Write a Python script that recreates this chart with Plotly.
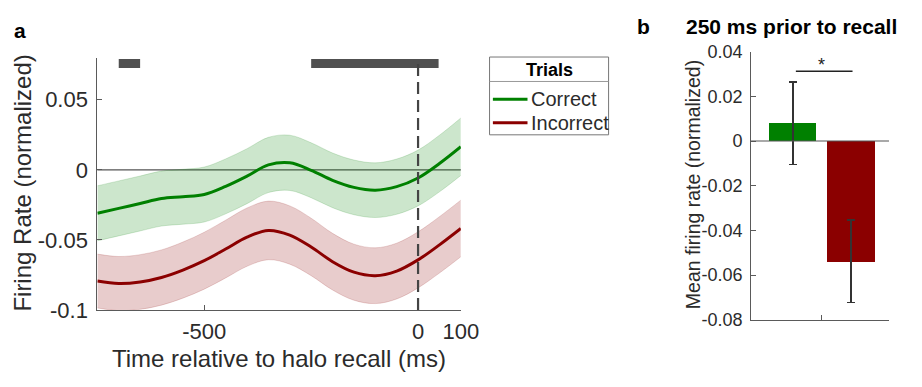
import plotly.graph_objects as go

# ---- Panel a: firing rate around halo recall ----
time_ms = [-750, -700, -650, -600, -550, -500, -450, -400, -350, -300,
           -250, -200, -150, -100, -50, 0, 50, 100]
correct_mean = [-0.0310, -0.0275, -0.0240, -0.0205, -0.0192, -0.0176, -0.0118,
                -0.0045, 0.0035, 0.0050, -0.0003, -0.0075, -0.0125, -0.0145,
                -0.0120, -0.0058, 0.0045, 0.0165]
correct_sem = [0.0196, 0.0196, 0.0196, 0.0196, 0.0196, 0.0196, 0.0196, 0.0196,
               0.0197, 0.0197, 0.0196, 0.0195, 0.0195, 0.0195, 0.0197, 0.0199,
               0.0202, 0.0205]
incorrect_mean = [-0.0793, -0.0811, -0.0800, -0.0768, -0.0715, -0.0648, -0.0565,
                  -0.0480, -0.0432, -0.0465, -0.0550, -0.0655, -0.0730, -0.0755,
                  -0.0722, -0.0642, -0.0535, -0.0418]
incorrect_sem = [0.0192, 0.0193, 0.0195, 0.0197, 0.0200, 0.0203, 0.0206, 0.0208,
                 0.0209, 0.0208, 0.0205, 0.0202, 0.0200, 0.0199, 0.0199, 0.0200,
                 0.0201, 0.0202]

# significant time windows (start, end) and the bar height they are drawn at
sig_start = [-700, -250]
sig_end = [-650, 48]
sig_level = 0.0759
sig_dot_t = [-335]
sig_dot_level = [0.0838]

# ---- Panel b: mean rate 250 ms before recall ----
bar_x = [1, 2]
bar_labels = ["Correct", "Incorrect"]
bar_mean = [0.0080, -0.0538]
bar_sem = [0.0185, 0.0184]

GREEN = "rgb(0,128,0)"
RED = "rgb(139,0,0)"
GREEN_FILL = "rgba(0,128,0,0.2)"
RED_FILL = "rgba(139,0,0,0.2)"
AX = "#5a5a5a"
TXT = "#2b2b2b"
FONT = "Liberation Sans, Arial, sans-serif"

W, H = 922, 387


def px_x(p):
    return p / W


def px_y(p):
    return 1 - p / H


fig = go.Figure()

# shaded SEM bands + mean lines
for mean, sem, line_c, fill_c, name in [
    (correct_mean, correct_sem, GREEN, GREEN_FILL, "Correct"),
    (incorrect_mean, incorrect_sem, RED, RED_FILL, "Incorrect"),
]:
    lower = [m - s for m, s in zip(mean, sem)]
    upper = [m + s for m, s in zip(mean, sem)]
    fig.add_trace(go.Scatter(x=time_ms, y=lower, mode="lines",
                             line=dict(color=fill_c, width=0.8, shape="spline"),
                             hoverinfo="skip", showlegend=False))
    fig.add_trace(go.Scatter(x=time_ms, y=upper, mode="lines", fill="tonexty",
                             fillcolor=fill_c,
                             line=dict(color=fill_c, width=0.8, shape="spline"),
                             hoverinfo="skip", showlegend=False))
    fig.add_trace(go.Scatter(x=time_ms, y=mean, mode="lines", name=name,
                             line=dict(color=line_c, width=3, shape="spline"),
                             showlegend=False))

# significance bars
for s, e in zip(sig_start, sig_end):
    fig.add_trace(go.Scatter(x=[s, e], y=[sig_level, sig_level], mode="lines",
                             line=dict(color="#505050", width=9),
                             hoverinfo="skip", showlegend=False))
fig.add_trace(go.Scatter(x=sig_dot_t, y=sig_dot_level, mode="markers",
                         marker=dict(color="#222", size=3, symbol="square"),
                         cliponaxis=False, hoverinfo="skip", showlegend=False))

# panel b bars
fig.add_trace(go.Bar(x=bar_x, y=bar_mean, width=0.81,
                     marker=dict(color=[GREEN, RED], line=dict(width=0)),
                     error_y=dict(type="data", array=bar_sem, color="#333",
                                  thickness=1.6, width=4),
                     hovertext=bar_labels, showlegend=False,
                     xaxis="x2", yaxis="y2"))

axis_common = dict(showline=True, linecolor=AX, linewidth=1, ticks="inside",
                   tickcolor=AX, ticklen=5, showgrid=False, zeroline=False,
                   mirror=False)

fig.update_layout(
    width=W, height=H, autosize=False,
    margin=dict(l=0, r=0, t=0, b=0),
    paper_bgcolor="white", plot_bgcolor="white",
    font=dict(family=FONT, color=TXT),
    showlegend=False,
    bargap=0,
    xaxis=dict(domain=[px_x(99.3), px_x(470)], range=[-750, 100],
               tickvals=[-500, 0, 100], ticktext=["-500", "0", "100"],
               tickfont=dict(size=22, color=TXT), ticklabelstandoff=2,
               anchor="y", **axis_common),
    yaxis=dict(domain=[px_y(319), px_y(50.7)], range=[-0.1, 0.08],
               tickvals=[-0.1, -0.05, 0, 0.05],
               ticktext=["-0.1", "-0.05", "0", "0.05"],
               tickfont=dict(size=22, color=TXT), ticklabelstandoff=4,
               anchor="x", **axis_common),
    xaxis2=dict(domain=[px_x(766), px_x(906.7)], range=[0.286, 2.65],
                tickvals=[1.5], ticktext=[""], anchor="y2", **axis_common),
    yaxis2=dict(domain=[px_y(329.3), px_y(44.3)], range=[-0.08, 0.04],
                tickvals=[-0.08, -0.06, -0.04, -0.02, 0, 0.02, 0.04],
                ticktext=["-0.08", "-0.06", "-0.04", "-0.02", "0", "0.02", "0.04"],
                tickfont=dict(size=18, color=TXT), ticklabelstandoff=4,
                anchor="x2", **axis_common),
)

shapes = [
    # zero reference lines
    dict(type="line", xref="x domain", yref="y", x0=0, x1=1, y0=0, y1=0,
         line=dict(color="#555", width=1.3), layer="below"),
    dict(type="line", xref="x2 domain", yref="y2", x0=0, x1=1, y0=0, y1=0,
         line=dict(color="#555", width=1.2), layer="above"),
    # recall onset
    dict(type="line", xref="x", yref="y", x0=0, x1=0, y0=-0.1, y1=sig_level,
         line=dict(color="#444", width=2.2, dash="12px,6px"), layer="above"),
    # significance bracket in panel b
    dict(type="line", xref="x2", yref="y2", x0=1.054, x1=2.025,
         y0=0.0312, y1=0.0312, line=dict(color="#222", width=1.5)),
    # legend frame
    dict(type="rect", xref="paper", yref="paper",
         x0=px_x(499.3), x1=px_x(620.7), y0=px_y(132.7), y1=px_y(50),
         line=dict(color="#777", width=1), fillcolor="white"),
    dict(type="line", xref="paper", yref="paper",
         x0=px_x(499.3), x1=px_x(620.7), y0=px_y(76), y1=px_y(76),
         line=dict(color="#999", width=1)),
    dict(type="line", xref="paper", yref="paper",
         x0=px_x(502.7), x1=px_x(538), y0=px_y(95), y1=px_y(95),
         line=dict(color=GREEN, width=3)),
    dict(type="line", xref="paper", yref="paper",
         x0=px_x(502.7), x1=px_x(538), y0=px_y(120), y1=px_y(120),
         line=dict(color=RED, width=3)),
]
fig.update_layout(shapes=shapes)

ann = [
    dict(text="Firing Rate (normalized)", x=px_x(23), y=px_y(184), textangle=-90,
         font=dict(size=24, color=TXT)),
    dict(text="Time relative to halo recall (ms)", x=px_x(285), y=px_y(370),
         font=dict(size=24, color=TXT)),
    dict(text="Mean firing rate (normalized)", x=px_x(707), y=px_y(186),
         textangle=-90, font=dict(size=19.5, color=TXT)),
    dict(text="<b>a</b>", x=px_x(20), y=px_y(22), font=dict(size=21, color="black")),
    dict(text="<b>b</b>", x=px_x(656), y=px_y(18), font=dict(size=21, color="black")),
    dict(text="<b>250 ms prior to recall</b>", x=px_x(807), y=px_y(18),
         font=dict(size=21, color="black")),
    dict(text="<b>Trials</b>", x=px_x(560), y=px_y(64), font=dict(size=18, color="black")),
    dict(text="Correct", x=px_x(540), y=px_y(95), xanchor="left",
         font=dict(size=20, color=TXT)),
    dict(text="Incorrect", x=px_x(540), y=px_y(120), xanchor="left",
         font=dict(size=20, color=TXT)),
    dict(text="*", x=1.5, y=0.0312, xref="x2", yref="y2", yanchor="bottom",
         yshift=-6, font=dict(size=18, color="#222")),
]
for a in ann:
    a.setdefault("xref", "paper")
    a.setdefault("yref", "paper")
    a.setdefault("xanchor", "center")
    a.setdefault("yanchor", "middle")
    a["showarrow"] = False
fig.update_layout(annotations=ann)

# the page itself adds no margin or scrollbars around the fixed-size figure
fig.write_html(
    "out.html",
    post_script="document.body.style.margin='0';document.body.style.overflow='hidden';",
)
